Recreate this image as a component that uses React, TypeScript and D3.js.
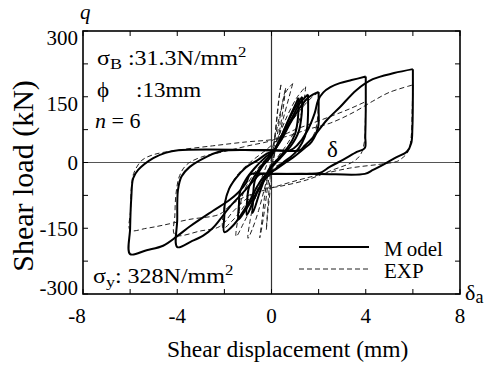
import React from 'react';
import * as d3 from 'd3';

type Pt = [number, number];

// tick values
const xTicks = [-8, -6, -4, -2, 0, 2, 4, 6, 8];
const xTickLabels = [-8, -4, 0, 4, 8];
const yTicks = [-300, -225, -150, -75, 0, 75, 150, 225, 300];
const yTickLabels = [300, 150, 0, -150, -300];

// Model cycles (displacement mm, load kN)
const model08: Pt[] = [
  [1.15, 148], [1.12, 100], [1.0, 65], [0.7, 35], [0.3, 10], [-0.1, -15], [-0.45, -60], [-0.8, -115],
  [-0.78, -75], [-0.7, -40], [-0.4, -10], [0, 15], [0.3, 45], [0.7, 95], [1.15, 148],
];
const model1: Pt[] = [
  [1.3, 150], [1.28, 110], [1.15, 70], [0.85, 40], [0.4, 12], [0, -12], [-0.4, -45], [-0.75, -85],
  [-1.05, -120], [-1.03, -85], [-0.95, -55], [-0.65, -25], [-0.25, 5], [0.15, 30], [0.5, 70],
  [0.9, 115], [1.3, 150],
];
const model15: Pt[] = [
  [1.55, 155], [1.55, 110], [1.5, 75], [1.3, 45], [1.0, 22], [0.5, 0], [0.1, -18], [-0.3, -40],
  [-0.7, -75], [-1.1, -108], [-1.4, -130], [-1.38, -95], [-1.35, -70], [-1.1, -40], [-0.7, -12],
  [-0.3, 10], [0.1, 28], [0.5, 65], [0.9, 105], [1.2, 135], [1.55, 155],
];
const model2: Pt[] = [
  [2, 161], [2, 120], [1.98, 81], [1.7, 47], [1.41, 33], [1.0, 15], [0.6, 0], [0.2, -15], [-0.2, -26],
  [-0.5, -45], [-0.9, -85], [-1.3, -120], [-1.6, -142], [-2, -159], [-2, -120], [-1.98, -93],
  [-1.8, -60], [-1.5, -35], [-1.1, -12], [-0.6, 5], [-0.2, 20], [0.1, 28], [0.4, 50], [0.8, 90],
  [1.2, 125], [1.5, 145], [1.75, 155], [2, 161],
];
const model4: Pt[] = [
  [4, 196], [4, 120], [3.98, 60], [3.96, 33], [3.62, 24], [3.03, 6], [2.47, -10], [2.05, -24],
  [1.5, -26], [0, -26], [-0.5, -27], [-0.7, -38], [-1.2, -68], [-1.77, -101], [-2.2, -131],
  [-2.5, -150], [-2.9, -167], [-3.4, -180], [-4, -193], [-4, -130], [-3.97, -63], [-3.82, -32],
  [-3.47, -10], [-2.76, 13], [-2.2, 25], [-1.9, 28], [0, 28], [0.8, 28], [1.1, 40], [1.5, 70],
  [1.83, 112], [1.98, 142], [2.2, 160], [2.5, 172], [2.9, 181], [3.4, 188], [4, 196],
];
const model6: Pt[] = [
  [6, 213], [6, 150], [5.98, 80], [5.93, 44], [5.75, 25], [5.23, 10], [4.75, -5], [4.31, -17],
  [3.96, -26], [2, -26], [0, -26], [-0.9, -27], [-1.06, -45], [-1.4, -68], [-1.77, -85],
  [-2.48, -110], [-3.47, -146], [-4.0, -168], [-4.6, -190], [-5.3, -200], [-6, -209], [-6, -150],
  [-5.95, -80], [-5.87, -36], [-5.66, -17], [-5.02, 10], [-4.5, 22], [-3.96, 28], [0, 28],
  [1.2, 28], [1.4, 38], [1.77, 58], [2.35, 97], [2.9, 126], [3.6, 165], [4.3, 190], [5.2, 204],
  [6, 213],
];

// EXP cycles
const exp05: Pt[] = [
  [0.4, 177], [0.3, 140], [0.2, 90], [0.1, 40], [0, 0], [-0.15, -50], [-0.3, -110], [-0.45, -160],
  [-0.5, -172], [-0.4, -130], [-0.3, -80], [-0.15, -30], [0, 10], [0.15, 60], [0.25, 110],
  [0.35, 160], [0.4, 177],
];
const exp07: Pt[] = [
  [0.6, 170], [0.5, 125], [0.35, 75], [0.15, 25], [0, -10], [-0.1, -60], [-0.18, -120], [-0.22, -154],
  [-0.15, -110], [-0.05, -60], [0.05, -10], [0.2, 45], [0.35, 100], [0.5, 145], [0.6, 170],
];
const exp1: Pt[] = [
  [0.9, 180], [0.75, 150], [0.5, 100], [0.3, 55], [0.1, 15], [-0.1, -20], [-0.3, -60], [-0.55, -110],
  [-0.8, -150], [-1.0, -173], [-0.9, -130], [-0.7, -80], [-0.45, -40], [-0.2, -5], [0, 25],
  [0.2, 70], [0.4, 120], [0.6, 160], [0.9, 180],
];
const exp15: Pt[] = [
  [1.45, 173], [1.35, 130], [1.1, 85], [0.7, 45], [0.3, 15], [0, -10], [-0.4, -45], [-0.8, -95],
  [-1.2, -140], [-1.5, -169], [-1.4, -120], [-1.2, -70], [-0.8, -30], [-0.3, 5], [0, 25],
  [0.3, 60], [0.7, 110], [1.1, 150], [1.45, 173],
];
const exp2: Pt[] = [
  [2, 160], [1.97, 110], [1.85, 70], [1.5, 40], [1.0, 15], [0.3, -5], [-0.3, -30], [-0.8, -70],
  [-1.3, -110], [-1.7, -135], [-2.05, -150], [-2.0, -100], [-1.8, -60], [-1.4, -25], [-0.8, 5],
  [-0.2, 30], [0.3, 55], [0.8, 90], [1.3, 125], [1.7, 148], [2, 160],
];
const exp4: Pt[] = [
  [4, 139], [3.98, 90], [3.95, 50], [3.8, 20], [3.5, 3], [2.6, -17], [1.48, -40], [0.3, -55],
  [-0.5, -62], [-1.0, -80], [-1.6, -110], [-2.2, -146], [-3.0, -156], [-4.1, -165], [-4.1, -120],
  [-4.05, -70], [-3.9, -30], [-3.6, -5], [-3.0, 12], [-2.0, 25], [-1.0, 38], [0, 50], [0.6, 65],
  [1.0, 75], [1.55, 86], [2.5, 105], [3.3, 122], [4, 139],
];
const exp6: Pt[] = [
  [6, 177], [5.97, 120], [5.93, 60], [5.8, 25], [5.5, 8], [5.3, 2], [4.6, -4], [3.3, -13],
  [1.5, -35], [0, -58], [-1.2, -80], [-1.8, -100], [-2.2, -118], [-3.5, -130], [-4.6, -143],
  [-5.3, -150], [-6, -154], [-5.98, -110], [-5.95, -60], [-5.85, -25], [-5.5, 5], [-5.0, 18],
  [-4.0, 28], [-2.5, 38], [-1.06, 47], [0, 52], [0.8, 62], [1.5, 75], [2.5, 90], [3.5, 115],
  [4.3, 140], [5.0, 160], [6, 177],
];

const modelLoops = [model08, model1, model15, model2, model4, model6];
const expLoops = [exp05, exp07, exp1, exp15, exp2, exp4, exp6];

const serif = { fontFamily: "'Liberation Serif'" };

export default function App() {
  const margin = { top: 31, right: 30, bottom: 71, left: 83 };
  const W = 490;
  const H = 365;
  const x = d3.scaleLinear().domain([-8, 8]).range([margin.left, W - margin.right]);
  const y = d3.scaleLinear().domain([-300, 300]).range([H - margin.bottom, margin.top]);
  const line = d3
    .line<Pt>()
    .x((d) => x(d[0]))
    .y((d) => y(d[1]))
    .curve(d3.curveCatmullRom.alpha(0.5));

  const x0 = x(-8), x1 = x(8), yTop = y(300), yBot = y(-300);
  const tl = 5;

  return (
    <svg width={W} height={H} style={{ position: 'absolute', left: 0, top: 0, background: '#fff' }}>
      {/* zero lines */}
      <line x1={x0} x2={x1} y1={y(0)} y2={y(0)} stroke="#555" strokeWidth={1.2} />
      <line x1={x(0)} x2={x(0)} y1={yTop} y2={yBot} stroke="#333" strokeWidth={1.2} />

      {/* EXP */}
      {expLoops.map((d, i) => (
        <path key={'e' + i} d={line(d) || ''} fill="none" stroke="#222" strokeWidth={1} strokeDasharray="5,3" />
      ))}
      {/* Model */}
      {modelLoops.map((d, i) => (
        <path key={'m' + i} d={line(d) || ''} fill="none" stroke="#000" strokeWidth={2} strokeLinejoin="round" />
      ))}

      {/* frame */}
      <rect x={x0} y={yTop} width={x1 - x0} height={yBot - yTop} fill="none" stroke="#000" strokeWidth={1.6} />
      {xTicks.map((t) => (
        <g key={'xt' + t}>
          <line x1={x(t)} x2={x(t)} y1={yBot} y2={yBot - tl} stroke="#000" />
          <line x1={x(t)} x2={x(t)} y1={yTop} y2={yTop + tl} stroke="#000" />
        </g>
      ))}
      {yTicks.map((t) => (
        <g key={'yt' + t}>
          <line x1={x0} x2={x0 + tl} y1={y(t)} y2={y(t)} stroke="#000" />
          <line x1={x1} x2={x1 - tl} y1={y(t)} y2={y(t)} stroke="#000" />
        </g>
      ))}
      {xTickLabels.map((t) => (
        <text key={'xl' + t} x={x(t) - (t === -8 ? 6 : 0)} y={323} fontSize={21} textAnchor="middle" style={serif}>
          {t}
        </text>
      ))}
      {yTickLabels.map((t) => (
        <text
          key={'yl' + t}
          x={x0 - 5}
          y={y(t) + (t > 0 ? 7 : t < -200 ? -6 : 0)}
          dy="0.35em"
          fontSize={21}
          textAnchor="end"
          style={serif}
        >
          {t}
        </text>
      ))}

      {/* axis titles */}
      <text x={167} y={357} fontSize={23.5} style={serif}>Shear displacement (mm)</text>
      <text transform="translate(33,176) rotate(-90)" fontSize={30} textAnchor="middle" style={serif}>Shear load (kN)</text>
      <text x={80} y={19} fontSize={21} fontStyle="italic" style={serif}>q</text>
      <text x={465} y={300} fontSize={22} style={serif}>δ<tspan fontSize={18} dy={3}>a</tspan></text>
      <text x={327} y={157} fontSize={23} style={serif}>δ</text>

      {/* annotations */}
      <g transform="translate(97,65) scale(1.2,1)" fontSize={20}>
        <text style={serif}>σ<tspan fontSize={15} dy={4}>B</tspan><tspan dy={-4}> :31.3N/mm</tspan><tspan fontSize={14} dy={-8}>2</tspan></text>
      </g>
      <g transform="translate(97,97) scale(1.15,1)" fontSize={20}>
        <text style={serif}>ϕ<tspan x={34}>:13mm</tspan></text>
      </g>
      <g transform="translate(95,128) scale(1.1,1)" fontSize={20}>
        <text style={serif}><tspan fontStyle="italic">n</tspan> = 6</text>
      </g>
      <g transform="translate(93,283) scale(1.2,1)" fontSize={20}>
        <text style={serif}>σ<tspan fontSize={15} dy={4}>y</tspan><tspan dy={-4}>: 328N/mm</tspan><tspan fontSize={14} dy={-8}>2</tspan></text>
      </g>

      {/* legend */}
      <line x1={299} x2={369} y1={247} y2={247} stroke="#000" strokeWidth={2} />
      <text x={384} y={256} fontSize={21} style={serif}>M<tspan dx={4}>odel</tspan></text>
      <line x1={299} x2={369} y1={269} y2={269} stroke="#222" strokeWidth={1} strokeDasharray="5,3" />
      <text x={384} y={278} fontSize={21} style={serif}>EXP</text>
    </svg>
  );
}
